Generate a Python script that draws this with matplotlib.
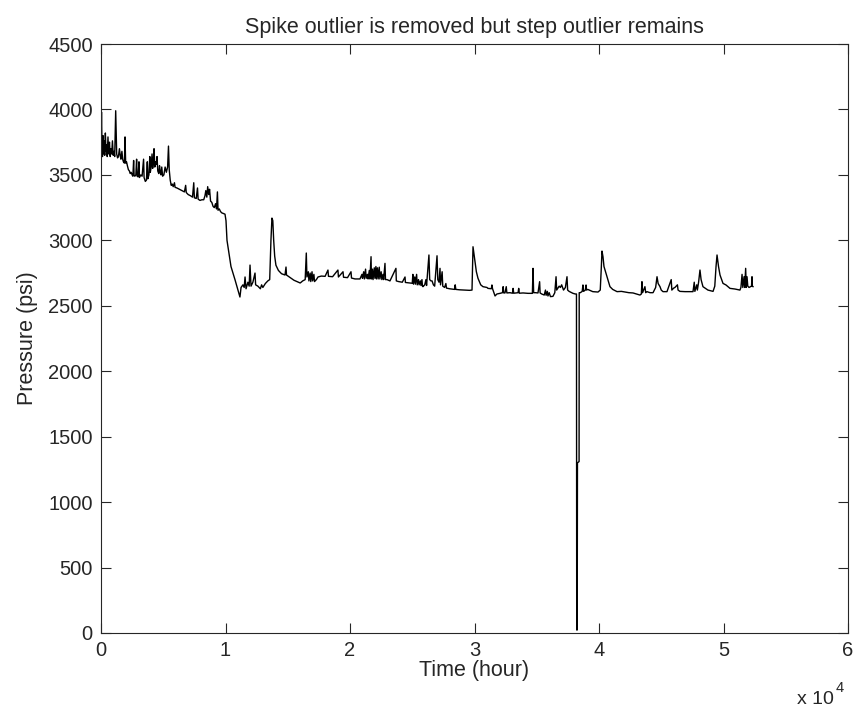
import numpy as np
import matplotlib.pyplot as plt

plt.rcParams['font.family'] = ['Liberation Sans', 'DejaVu Sans']

# time in hours, pressure in psi
time_hr = [
    0, 40, 80, 120, 160, 200, 250, 300, 350, 400, 450, 500, 560, 620, 680, 740,
    800, 860, 920, 980, 1040, 1100, 1180, 1260, 1330, 1400, 1480, 1540, 1600,
    1680, 1740, 1800, 1880, 1930, 1980, 2050, 2120, 2200, 2280, 2350, 2420,
    2500, 2560, 2620, 2660, 2720, 2800, 2860, 2900, 2980, 3050, 3090, 3200,
    3300, 3420, 3460, 3560, 3650, 3720, 3760, 3850, 3920, 3960, 4030, 4100,
    4150, 4200, 4260, 4320, 4380, 4440, 4500, 4560, 4640, 4700, 4760, 4820,
    4880, 4950, 5050, 5150, 5250, 5350, 5420, 5480, 5560, 5640, 5720, 5800,
    5900, 5950, 6100, 6300, 6500, 6700, 6800, 6850, 7000, 7200, 7350, 7450,
    7500, 7650, 7750, 7800, 7950, 8100, 8250, 8350, 8420, 8500, 8570, 8650,
    8720, 8800, 8900, 9000, 9100, 9200, 9280, 9350, 9400, 9500, 9600, 9700,
    9960, 10040, 10120, 10200, 10440, 10760, 11000, 11160, 11250, 11400,
    11500, 11570, 11650, 11800, 11900, 11970, 12050, 12200, 12370, 12420,
    12600, 12800, 12900, 13000, 13200, 13400, 13550, 13650, 13730, 13800,
    13870, 13950, 14050, 14250, 14500, 14780, 14860, 14900, 15200, 15500,
    15820, 16000, 16200, 16400, 16490, 16540, 16650, 16700, 16800, 16850,
    16950, 17000, 17100, 17150, 17300, 17430, 17700, 18000, 18230, 18270,
    18600, 19030, 19070, 19440, 19480, 19800, 20080, 20120, 20400, 20800,
    20960, 21000, 21100, 21150, 21250, 21300, 21400, 21450, 21550, 21600,
    21690, 21720, 21800, 21850, 21950, 22000, 22080, 22120, 22200, 22260,
    22350, 22400, 22500, 22560, 22650, 22700, 22810, 22850, 22970, 23100,
    23210, 23690, 23720, 23900, 24200, 24420, 24450, 24700, 25000, 25050,
    25100, 25200, 25250, 25350, 25400, 25500, 25550, 25650, 25700, 25780,
    25820, 25860, 26000, 26100, 26150, 26340, 26400, 26500, 26590, 26700,
    26800, 26990, 27050, 27150, 27230, 27270, 27400, 27450, 27600, 27700,
    27750, 28000, 28400, 28450, 28500, 28800, 29200, 29600, 29800, 29880,
    29950, 30040, 30150, 30280, 30500, 30680, 31000, 31080, 31350, 31400,
    31450, 31650, 31800, 32050, 32250, 32300, 32350, 32450, 32550, 32600,
    32850, 33050, 33100, 33150, 33500, 33550, 33600, 33900, 34300, 34650,
    34700, 34750, 34900, 35100, 35230, 35270, 35400, 35600, 35700, 35750,
    35850, 35900, 36000, 36100, 36300, 36450, 36550, 36600, 36800, 36900,
    37000, 37150, 37300, 37430, 37480, 37600, 37910, 38100, 38190, 38210,
    38250, 38270, 38400, 38410, 38500, 38650, 38710, 38760, 38900, 38960,
    39000, 39100, 39500, 39920, 40100, 40180, 40240, 40320, 40400, 40640,
    40880, 41100, 41450, 41800, 42090, 42400, 42730, 43000, 43290, 43400,
    43450, 43500, 43690, 43750, 43850, 44100, 44340, 44550, 44660, 44750,
    44900, 45000, 45140, 45460, 45800, 45850, 46000, 46100, 46300, 46350,
    46500, 46910, 47310, 47550, 47650, 47700, 47850, 47900, 48000, 48110,
    48200, 48350, 48750, 49160, 49300, 49400, 49480, 49600, 49720, 49960,
    50200, 50360, 50520, 50920, 51320, 51400, 51490, 51550, 51650, 51700,
    51780, 51830, 51890, 51950, 52050, 52250, 52290, 52320, 52370,
]
pressure_psi = [
    3700, 3980, 3720, 3640, 3800, 3660, 3760, 3650, 3820, 3680, 3730, 3640,
    3790, 3660, 3750, 3640, 3700, 3660, 3760, 3650, 3680, 3640, 3990, 3660,
    3630, 3640, 3700, 3650, 3620, 3680, 3620, 3600, 3590, 3790, 3590, 3600,
    3570, 3540, 3530, 3510, 3520, 3500, 3490, 3610, 3495, 3490, 3500, 3620,
    3490, 3485, 3600, 3480, 3500, 3490, 3620, 3480, 3450, 3460, 3600, 3470,
    3500, 3640, 3520, 3560, 3660, 3550, 3590, 3700, 3560, 3600, 3580, 3640,
    3530, 3510, 3570, 3520, 3500, 3560, 3490, 3500, 3560, 3520, 3560, 3720,
    3540, 3460, 3420, 3430, 3410, 3440, 3405, 3400, 3390, 3380, 3370, 3420,
    3365, 3350, 3340, 3330, 3440, 3325, 3320, 3400, 3315, 3305, 3310, 3310,
    3340, 3380, 3330, 3410, 3350, 3390, 3300, 3290, 3260, 3250, 3280, 3240,
    3370, 3230, 3240, 3220, 3210, 3200, 3150, 3000, 2950, 2800, 2700, 2620,
    2567, 2640, 2660, 2640, 2720, 2630, 2680, 2650, 2811, 2650, 2680, 2750,
    2660, 2650, 2630, 2660, 2640, 2670, 2690, 2700, 3000, 3170, 3150, 3000,
    2880, 2810, 2770, 2745, 2735, 2796, 2735, 2715, 2695, 2682, 2674, 2690,
    2700, 2903, 2720, 2760, 2690, 2750, 2685, 2760, 2690, 2740, 2685, 2700,
    2720, 2727, 2725, 2773, 2725, 2722, 2773, 2720, 2760, 2718, 2715, 2760,
    2712, 2705, 2705, 2740, 2710, 2760, 2705, 2780, 2710, 2740, 2705, 2770,
    2705, 2875, 2705, 2780, 2700, 2790, 2710, 2800, 2705, 2790, 2705, 2795,
    2705, 2760, 2700, 2740, 2700, 2824, 2700, 2700, 2695, 2690, 2786, 2690,
    2685, 2680, 2720, 2678, 2675, 2672, 2740, 2665, 2720, 2665, 2740, 2660,
    2700, 2660, 2690, 2655, 2700, 2650, 2646, 2660, 2700, 2655, 2888, 2700,
    2690, 2690, 2660, 2650, 2882, 2700, 2680, 2786, 2660, 2760, 2650, 2640,
    2670, 2635, 2630, 2625, 2660, 2625, 2622, 2620, 2618, 2620, 2951, 2900,
    2837, 2760, 2710, 2660, 2646, 2640, 2633, 2630, 2659, 2630, 2575, 2590,
    2595, 2600, 2646, 2598, 2598, 2646, 2598, 2600, 2596, 2633, 2596, 2600,
    2633, 2596, 2598, 2595, 2595, 2786, 2600, 2600, 2598, 2684, 2598, 2590,
    2582, 2620, 2580, 2610, 2575, 2600, 2570, 2572, 2600, 2722, 2620, 2650,
    2640, 2660, 2620, 2640, 2722, 2620, 2610, 2595, 2590, 2590, 23, 23, 1300,
    1310, 2600, 2600, 2610, 2659, 2610, 2620, 2659, 2620, 2625, 2608, 2605,
    2620, 2780, 2918, 2875, 2800, 2722, 2646, 2625, 2608, 2610, 2605, 2600,
    2598, 2590, 2582, 2590, 2684, 2600, 2646, 2600, 2608, 2600, 2600, 2640,
    2722, 2670, 2646, 2620, 2608, 2608, 2700, 2620, 2635, 2640, 2660, 2620,
    2610, 2608, 2608, 2608, 2680, 2610, 2660, 2620, 2680, 2773, 2700, 2646,
    2620, 2610, 2650, 2800, 2888, 2800, 2735, 2671, 2659, 2646, 2633, 2628,
    2620, 2640, 2740, 2640, 2722, 2640, 2786, 2640, 2722, 2650, 2640, 2650,
    2722, 2650, 2646,
]

x_ticks = [0, 10000, 20000, 30000, 40000, 50000, 60000]
x_tick_labels = ['0', '1', '2', '3', '4', '5', '6']
y_ticks = [0, 500, 1000, 1500, 2000, 2500, 3000, 3500, 4000, 4500]

fs = 15.5
ink = '#262626'

fig = plt.figure(figsize=(8.56, 7.13), dpi=100)
ax = fig.add_axes([101 / 856, 80 / 713, 747 / 856, 589 / 713])

ax.plot(time_hr, pressure_psi, color='black', lw=1.0)

ax.set_xlim(0, 60000)
ax.set_ylim(0, 4500)
ax.set_xticks(x_ticks)
ax.set_xticklabels(x_tick_labels)
ax.set_yticks(y_ticks)
ax.tick_params(direction='in', length=7, width=0.8, top=True, right=True,
               labelsize=14.5, color=ink, labelcolor=ink)
ax.tick_params(axis='x', pad=6)
ax.tick_params(axis='y', pad=6)
for s in ax.spines.values():
    s.set_linewidth(0.8)
    s.set_color(ink)

ax.set_title('Spike outlier is removed but step outlier remains',
             fontsize=fs, pad=8, color=ink)
ax.set_xlabel('Time (hour)', fontsize=fs, labelpad=0, color=ink)
ax.set_ylabel('Pressure (psi)', fontsize=fs, labelpad=7, color=ink)

# MATLAB style exponent under the axis
fig.text(797 / 856, 1 - 704 / 713, 'x 10', fontsize=14, color=ink,
         ha='left', va='baseline')
fig.text(836 / 856, 1 - 692 / 713, '4', fontsize=10.5, color=ink,
         ha='left', va='baseline')

fig.savefig('out.png', dpi=100, facecolor='white')
